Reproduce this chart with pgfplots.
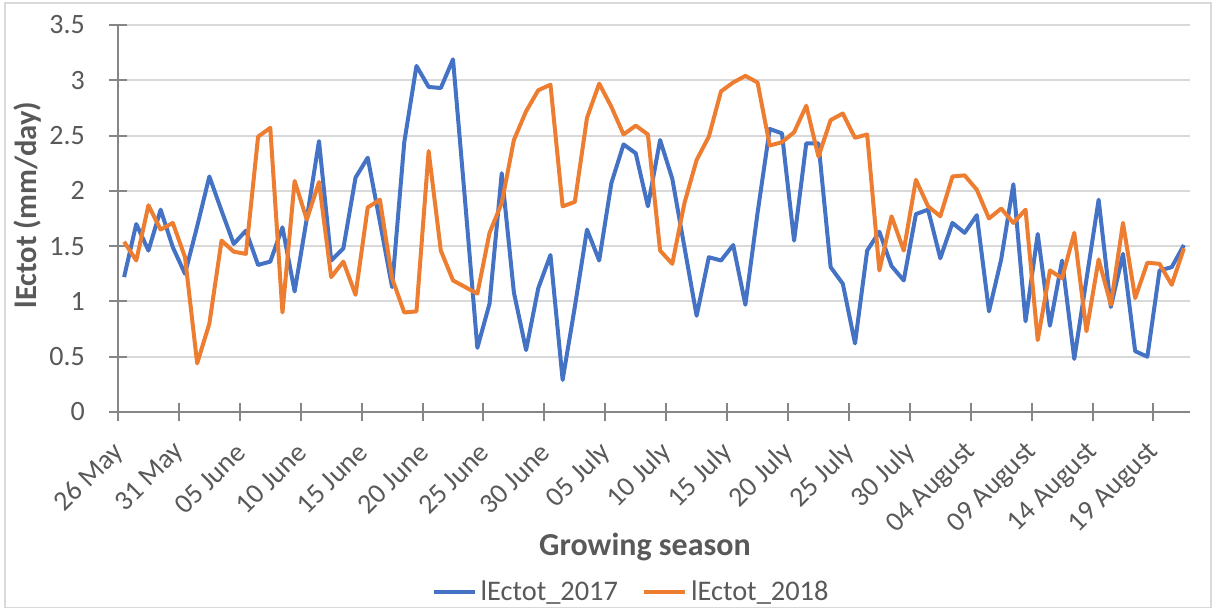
\documentclass[border=0pt]{standalone}
\usepackage{pgfplots}
\pgfplotsset{compat=1.18}
\usepackage{pgfplotstable}
\usepackage{fontspec}
\setmainfont{Carlito}

\definecolor{s2017}{HTML}{4472C4}
\definecolor{s2018}{HTML}{ED7D31}
\definecolor{txt}{HTML}{595959}
\definecolor{gridc}{HTML}{D9D9D9}
\definecolor{axc}{HTML}{868686}
\definecolor{framec}{HTML}{D9D9D9}

% Daily lEctot (mm/day), day 0 = 26 May
\pgfplotstableread{
day e2017 e2018
0 1.22 1.54
1 1.70 1.37
2 1.46 1.87
3 1.83 1.65
4 1.49 1.71
5 1.25 1.40
6 1.68 0.44
7 2.13 0.80
8 1.82 1.55
9 1.52 1.45
10 1.64 1.43
11 1.33 2.49
12 1.36 2.57
13 1.67 0.90
14 1.09 2.09
15 1.75 1.74
16 2.45 2.08
17 1.37 1.22
18 1.48 1.36
19 2.12 1.06
20 2.30 1.85
21 1.72 1.92
22 1.13 1.21
23 2.44 0.90
24 3.13 0.91
25 2.94 2.36
26 2.93 1.46
27 3.19 1.19
28 1.90 1.13
29 0.58 1.07
30 0.98 1.62
31 2.16 1.89
32 1.08 2.46
33 0.56 2.72
34 1.12 2.91
35 1.42 2.96
36 0.29 1.86
37 0.95 1.90
38 1.65 2.66
39 1.37 2.97
40 2.07 2.76
41 2.42 2.51
42 2.34 2.59
43 1.86 2.51
44 2.46 1.46
45 2.11 1.34
46 1.49 1.89
47 0.87 2.28
48 1.40 2.49
49 1.37 2.90
50 1.51 2.98
51 0.97 3.04
52 1.80 2.98
53 2.56 2.41
54 2.52 2.44
55 1.55 2.53
56 2.43 2.77
57 2.43 2.31
58 1.31 2.64
59 1.16 2.70
60 0.62 2.48
61 1.46 2.51
62 1.63 1.28
63 1.32 1.77
64 1.19 1.46
65 1.79 2.10
66 1.83 1.86
67 1.39 1.77
68 1.71 2.13
69 1.62 2.14
70 1.78 2.01
71 0.91 1.75
72 1.38 1.84
73 2.06 1.71
74 0.82 1.83
75 1.61 0.65
76 0.78 1.28
77 1.37 1.21
78 0.48 1.62
79 1.20 0.73
80 1.92 1.38
81 0.95 0.97
82 1.43 1.71
83 0.55 1.03
84 0.50 1.35
85 1.28 1.34
86 1.31 1.15
87 1.51 1.48
}\ectot

\begin{document}
\begin{tikzpicture}
\useasboundingbox (0,0) rectangle (609.5pt,305.5pt);
\draw[framec, line width=0.8pt] (2.5pt,1.8pt) rectangle (605.5pt,304pt);
\begin{axis}[
  at={(59pt,99.5pt)}, anchor=south west,
  scale only axis, width=536pt, height=193.5pt,
  xmin=-0.5, xmax=87.5, ymin=0, ymax=3.5,
  axis lines*=left,
  axis line style={axc, line width=1pt},
  tick style={axc, line width=1pt},
  tick align=center, major tick length=9pt,
  xtick={-0.5,4.5,...,84.5},
  xticklabels={26 May,31 May,05 June,10 June,15 June,20 June,25 June,30 June,05 July,10 July,15 July,20 July,25 July,30 July,04 August,09 August,14 August,19 August},
  ytick={0,0.5,...,3.5},
  /pgf/number format/assume math mode=true,
  /pgf/number format/fixed,
  ymajorgrids, grid style={gridc, line width=1pt},
  x tick label style={xshift=3pt, yshift=-11pt, rotate=45, anchor=east, text=txt, font=\fontsize{14}{17}\selectfont},
  y tick label style={text=txt, font=\fontsize{14}{17}\selectfont, xshift=-8.5pt},
  xlabel={Growing season},
  ylabel={lEctot (mm/day)},
  xlabel style={at={(axis description cs:0.4916,0)}, yshift=-67.5pt, anchor=center, font=\bfseries\fontsize{16}{19}\selectfont, text=txt},
  ylabel style={at={(axis description cs:-0.084,0.535)}, anchor=center, font=\bfseries\fontsize{15.3}{18}\selectfont, text=txt},
  legend style={at={(axis description cs:0.4795,0)}, yshift=-90pt, anchor=center, draw=none, fill=none, legend columns=2, font=\fontsize{14.2}{17}\selectfont, text=txt, /tikz/every even column/.append style={column sep=10pt}},
  legend cell align=left,
  legend image code/.code={\draw[#1, line width=2pt] (0pt,0pt) -- (20.5pt,0pt);},
  clip=false,
]
\addplot[s2017, line width=2pt, line join=round] table[x=day, y=e2017] {\ectot};
\addlegendentry{lEctot\_2017}
\addplot[s2018, line width=2pt, line join=round] table[x=day, y=e2018] {\ectot};
\addlegendentry{lEctot\_2018}
\end{axis}
\end{tikzpicture}
\end{document}
